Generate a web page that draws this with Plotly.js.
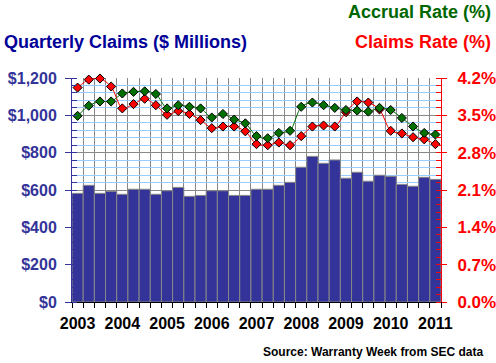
<!DOCTYPE html>
<html>
<head>
<meta charset="utf-8">
<script src="https://cdn.plot.ly/plotly-3.0.1.min.js"></script>
<style>html,body{margin:0;padding:0;background:#fff}#chart{width:496px;height:363px}</style>
</head>
<body>
<div id="chart"></div>
<script>
const quarters = ["2003Q1","2003Q2","2003Q3","2003Q4","2004Q1","2004Q2","2004Q3","2004Q4",
  "2005Q1","2005Q2","2005Q3","2005Q4","2006Q1","2006Q2","2006Q3","2006Q4",
  "2007Q1","2007Q2","2007Q3","2007Q4","2008Q1","2008Q2","2008Q3","2008Q4",
  "2009Q1","2009Q2","2009Q3","2009Q4","2010Q1","2010Q2","2010Q3","2010Q4","2011Q1"];
const claims = [582,625,582,593,577,604,604,577,596,614,566,571,596,596,571,571,
  604,604,625,641,722,780,743,761,663,695,647,679,673,630,620,668,657];
const claimsRate = [4.02,4.17,4.19,4.04,3.63,3.71,3.81,3.69,3.51,3.58,3.525,3.41,3.26,3.29,3.29,3.20,
  2.96,2.94,2.99,2.94,3.11,3.29,3.31,3.29,3.56,3.76,3.74,3.61,3.21,3.16,3.09,3.05,2.96];
const accrualRate = [3.49,3.68,3.76,3.76,3.91,3.94,3.95,3.90,3.63,3.69,3.66,3.63,3.46,3.525,3.42,3.35,
  3.11,3.07,3.17,3.21,3.66,3.74,3.69,3.64,3.60,3.59,3.57,3.64,3.60,3.45,3.29,3.17,3.14];
const yearLabels = ["2003","2004","2005","2006","2007","2008","2009","2010","2011"];
const leftTickVals = [0,200,400,600,800,1000,1200];
const leftTickText = ["$0","$200","$400","$600","$800","$1,000","$1,200"];
const rightTickVals = [0,0.7,1.4,2.1,2.8,3.5,4.2];
const rightTickText = ["0.0%","0.7%","1.4%","2.1%","2.8%","3.5%","4.2%"];

const xi = quarters.map((q,i)=>i);
const yearPos = yearLabels.map(y => quarters.indexOf(y + "Q1"));
const FONT = "Liberation Sans, Arial, sans-serif";

const traces = [
  {type:'bar', x:xi, y:claims, marker:{color:'#333399', line:{color:'#888888', width:1}}, yaxis:'y', hoverinfo:'skip'},
  {type:'scatter', mode:'lines+markers', x:xi, y:claimsRate, yaxis:'y2', cliponaxis:false,
   line:{color:'#ff0000', width:1, shape:'spline', smoothing:0.8},
   marker:{symbol:'diamond', size:7, color:'#ff0000', line:{color:'#000000', width:1}}},
  {type:'scatter', mode:'lines+markers', x:xi, y:accrualRate, yaxis:'y2', cliponaxis:false,
   line:{color:'#007000', width:1, shape:'spline', smoothing:0.8},
   marker:{symbol:'diamond', size:7, color:'#007000', line:{color:'#000000', width:1}}}
];

const layout = {
  width:496, height:363,
  margin:{l:72, r:55, t:78, b:61},
  paper_bgcolor:'#ffffff', plot_bgcolor:'#ffffff',
  showlegend:false, bargap:0,
  font:{family:FONT},
  xaxis:{
    range:[-0.5, quarters.length-0.5], fixedrange:true,
    tickmode:'array', tickvals:yearPos, ticktext:yearLabels, ticks:'',
    ticklabelstandoff:7,
    tickfont:{family:FONT, size:16, color:'#000000', weight:'bold'},
    showgrid:false, zeroline:false, showline:true, linecolor:'#000000', linewidth:1,
    minor:{tick0:-0.5, dtick:1, ticks:'outside', ticklen:5, tickcolor:'#000000', tickwidth:1,
      showgrid:true, gridcolor:'#888888', gridwidth:1}
  },
  yaxis:{
    range:[0,1200], fixedrange:true,
    tickmode:'array', tickvals:leftTickVals, ticktext:leftTickText,
    ticks:'outside', ticklen:6, tickcolor:'#333399', tickwidth:1,
    ticklabelstandoff:5,
    tickfont:{family:FONT, size:16, color:'#333399', weight:'bold'},
    showgrid:true, gridcolor:'#888888', gridwidth:1, zeroline:false,
    showline:true, linecolor:'#333399', linewidth:1,
    minor:{dtick:40, ticks:'inside', ticklen:5, tickcolor:'#333399', showgrid:true, gridcolor:'#99ccff', gridwidth:1}
  },
  yaxis2:{
    overlaying:'y', side:'right', range:[0,4.2], fixedrange:true,
    tickmode:'array', tickvals:rightTickVals, ticktext:rightTickText,
    ticks:'outside', ticklen:5, tickcolor:'#ff0000', tickwidth:1,
    ticklabelstandoff:7,
    tickfont:{family:FONT, size:17, color:'#ff0000', weight:'bold'},
    showgrid:false, zeroline:false, showline:true, linecolor:'#ff0000', linewidth:1,
    minor:{dtick:0.14, ticks:'inside', ticklen:5, tickcolor:'#ff0000', showgrid:false}
  },
  annotations:[
    {text:'Quarterly Claims ($ Millions)', xref:'paper', yref:'paper', x:-0.189, y:1.161, xanchor:'left', yanchor:'middle', showarrow:false, font:{family:FONT, size:18, color:'#000099', weight:'bold'}},
    {text:'Accrual Rate (%)', xref:'paper', yref:'paper', x:1.141, y:1.295, xanchor:'right', yanchor:'middle', showarrow:false, font:{family:FONT, size:18, color:'#006600', weight:'bold'}},
    {text:'Claims Rate (%)', xref:'paper', yref:'paper', x:1.141, y:1.161, xanchor:'right', yanchor:'middle', showarrow:false, font:{family:FONT, size:18, color:'#ff0000', weight:'bold'}},
    {text:'Source: Warranty Week from SEC data', xref:'paper', yref:'paper', x:1.120, y:-0.222, xanchor:'right', yanchor:'middle', showarrow:false, font:{family:FONT, size:12, color:'#000000', weight:'bold'}}
  ]
};

Plotly.newPlot('chart', traces, layout, {staticPlot:true, displayModeBar:false});
</script>
</body>
</html>
